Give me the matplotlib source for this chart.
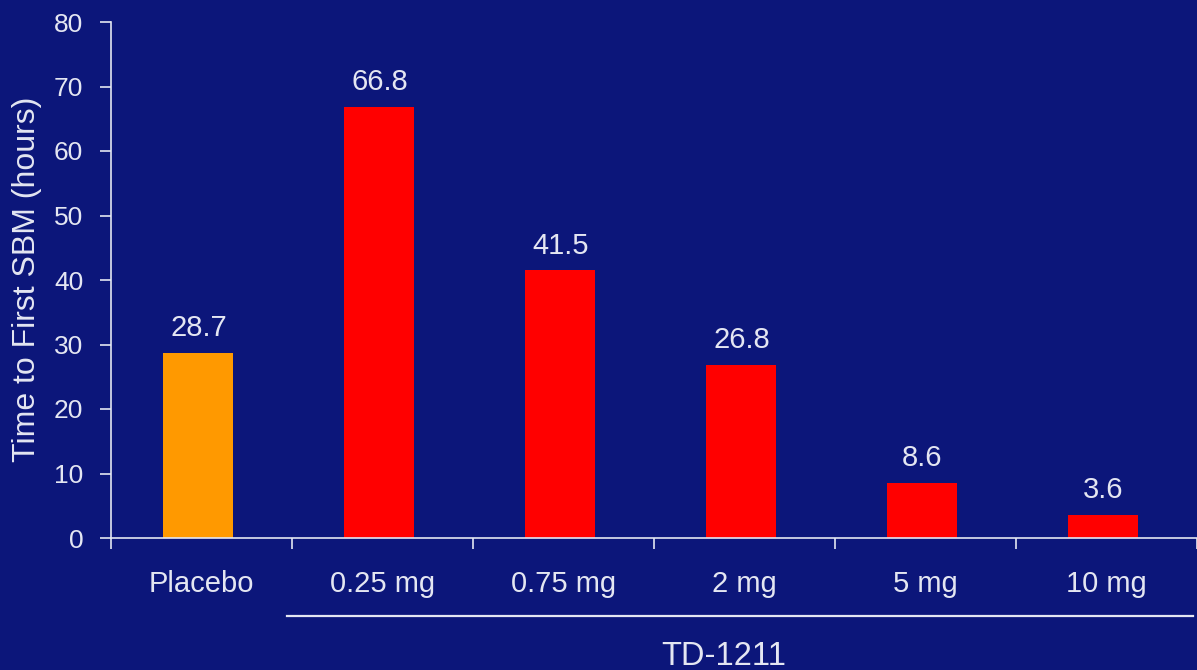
import matplotlib
matplotlib.use('Agg')
import matplotlib.pyplot as plt
import numpy as np

plt.rcParams['font.family'] = ['Liberation Sans', 'DejaVu Sans']

# data
groups = ['Placebo', '0.25 mg', '0.75 mg', '2 mg', '5 mg', '10 mg']
hours = [28.7, 66.8, 41.5, 26.8, 8.6, 3.6]
bar_colors = ['#ff9900', '#ff0000', '#ff0000', '#ff0000', '#ff0000', '#ff0000']
yticks = [0, 10, 20, 30, 40, 50, 60, 70, 80]

bg = '#0c167a'
fg = '#e4e6f2'

fig = plt.figure(figsize=(11.97, 6.70), dpi=100)
fig.patch.set_facecolor(bg)
ax = fig.add_axes([111/1197, 132/670, 1 - 111/1197, 516/670])
ax.set_facecolor(bg)

x = np.arange(len(groups))
ax.bar(x - 0.017, hours, width=0.387, color=bar_colors, zorder=2)
for xi, v in zip(x, hours):
    ax.text(xi - 0.017, v + 2.6, f'{v:.1f}', ha='center', va='baseline',
            color=fg, fontsize=21)

ax.set_xlim(-0.5, len(groups) - 0.5)
ax.set_ylim(0, 80)
ax.set_yticks(yticks)
ax.tick_params(axis='y', colors=fg, labelsize=19, length=8, width=1.2, pad=12)
ax.set_xticks(np.arange(len(groups) + 1) - 0.5)
ax.set_xticklabels([])
ax.tick_params(axis='x', colors=fg, length=8, width=1.2, direction='out')
for s in ['top', 'right']:
    ax.spines[s].set_visible(False)
for s in ['left', 'bottom']:
    ax.spines[s].set_color(fg)
    ax.spines[s].set_linewidth(1.2)

# category labels under the axis
for xi, g in zip(x, groups):
    ax.text(xi, -8.4, g, ha='center', va='baseline', color=fg, fontsize=21,
            clip_on=False)

# bracket line for the TD-1211 doses
ax.plot([0.472, 5.478], [-12.1, -12.1], color=fg, lw=1.6, clip_on=False)
ax.text(2.887, -19.7, 'TD-1211', ha='center', va='baseline', color=fg,
        fontsize=23.5, clip_on=False)

fig.text(27/1197, 1 - 279/670, 'Time to First SBM (hours)', rotation=90,
         ha='center', va='center', color=fg, fontsize=23)

fig.savefig('out.png', dpi=100, facecolor=bg)
